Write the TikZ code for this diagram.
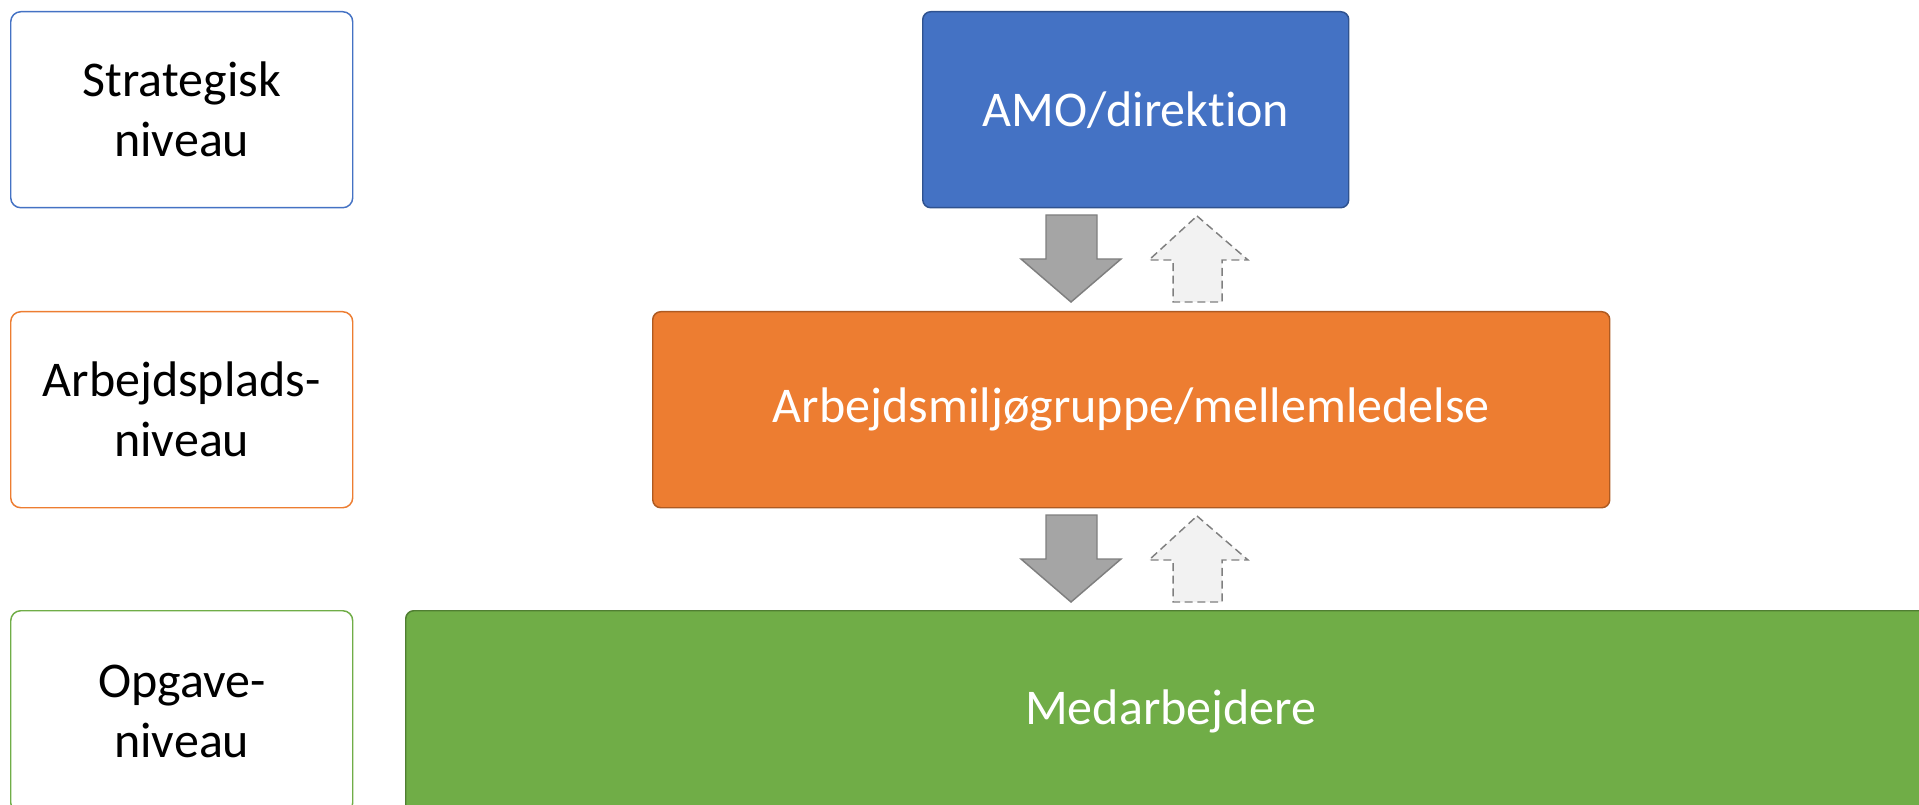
\documentclass[tikz,border=0pt]{standalone}
\usepackage{fontspec}
\setmainfont[Ligatures=NoCommon,RawFeature={-liga;-clig;-calt}]{Carlito}
\definecolor{cblue}{HTML}{4472C4}
\definecolor{cbluedk}{HTML}{2F528F}
\definecolor{corange}{HTML}{ED7D31}
\definecolor{corangedk}{HTML}{AE5A21}
\definecolor{cgreen}{HTML}{70AD47}
\definecolor{cgreendk}{HTML}{507E32}
\definecolor{agray}{HTML}{A5A5A5}
\definecolor{agraydk}{HTML}{7F7F7F}
\definecolor{alight}{HTML}{F2F2F2}
\begin{document}
\begin{tikzpicture}[x=0.75pt,y=-0.75pt,
  lbl/.style={draw, line width=1.1pt, fill=white, rounded corners=7.5pt, anchor=north west, inner sep=0pt,
    minimum width=256.5pt, minimum height=147pt, align=center,
    font=\fontsize{37.5}{45}\selectfont, text=black},
  mainbox/.style={line width=1.1pt, rounded corners=6pt, anchor=north west, inner sep=0pt,
    align=center, font=\fontsize{37.5}{45}\selectfont, text=white},
  downarr/.style={fill=agray, draw=agraydk, line width=1.1pt, line join=miter},
  uparr/.style={fill=alight, draw=agraydk, line width=1.1pt, dashed, dash pattern=on 6pt off 3.5pt}]
\useasboundingbox (0,0) rectangle (1919,805);
% left level labels
\node[lbl, draw=cblue] (strat) at (10,11) {Strategisk\\niveau};
\node[lbl, draw=corange] (arbniv) at (10,311) {Arbejdsplads-\\niveau};
\node[lbl, draw=cgreen, minimum height=151.5pt] (opg) at (10,610) {Opgave-\\niveau};
% main boxes
\node[mainbox, fill=cblue, draw=cbluedk, minimum width=319.5pt, minimum height=147pt] (amo) at (922,11) {AMO/direkt\kern0pt ion};
\node[mainbox, fill=corange, draw=corangedk, minimum width=717.75pt, minimum height=147pt] (amg) at (652,311) {Arbejdsmiljøgruppe/mellemledelse};
\node[mainbox, fill=cgreen, draw=cgreendk, minimum width=1147.5pt, minimum height=151.5pt] (med) at (405,610) {Medarbejdere};
% arrows between AMO and AMG
\draw[downarr] (1046,215) -- (1097,215) -- (1097,259) -- (1121,259) -- (1071,302) -- (1021,259) -- (1046,259) -- cycle;
\draw[uparr] (1197,216) -- (1248,260) -- (1222,260) -- (1222,302) -- (1173,302) -- (1173,260) -- (1149,260) -- cycle;
% arrows between AMG and Medarbejdere
\draw[downarr] (1046,515) -- (1097,515) -- (1097,559) -- (1121,559) -- (1071,602) -- (1021,559) -- (1046,559) -- cycle;
\draw[uparr] (1197,516) -- (1248,560) -- (1222,560) -- (1222,602) -- (1173,602) -- (1173,560) -- (1149,560) -- cycle;
\end{tikzpicture}
\end{document}
